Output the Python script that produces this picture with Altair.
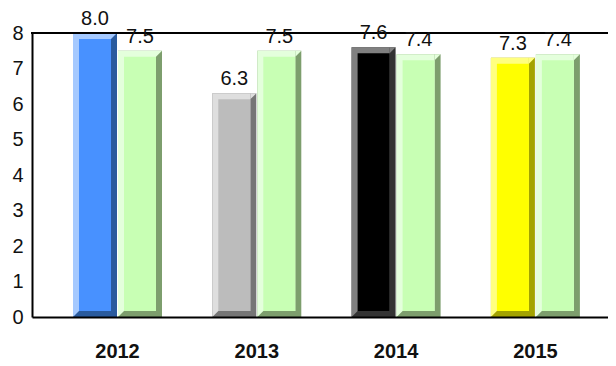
import altair as alt
import pandas as pd

# ---- data ----
years = ["2012", "2013", "2014", "2015"]
series_a = [8.0, 6.3, 7.6, 7.3]
series_b = [7.5, 7.5, 7.4, 7.4]
y_ticks = [0, 1, 2, 3, 4, 5, 6, 7, 8]

# ---- styles (per bar colour: face / light bevel / dark bevel) ----
a_face = ["#4891ff", "#bcbcbc", "#000000", "#ffff00"]
a_light = ["#a5c9ff", "#dedede", "#808080", "#ffff80"]
a_dark = ["#2a5b9e", "#767676", "#333333", "#a3a300"]
b_face = "#c8ffb4"
b_light = "#e4ffdc"
b_dark = "#7d9e6d"

FONT = "Liberation Sans"
TRI = "M-1,-1L1,-1L-1,1Z"

df_a = pd.DataFrame({"year": years, "value": series_a,
                     "face": a_face, "light": a_light, "dark": a_dark})
df_b = pd.DataFrame({"year": years, "value": series_b,
                     "face": [b_face] * 4, "light": [b_light] * 4, "dark": [b_dark] * 4})

PW, PH = 576, 284

xscale = alt.Scale(domain=years, paddingInner=0, paddingOuter=0.0675, align=0.843)
yscale = alt.Scale(domain=[0, 8], nice=False, zero=True)
xax = alt.Axis(title=None, labelAngle=0, ticks=False, labelPadding=24, labelFontSize=20,
               labelFontWeight="bold", labelFont=FONT, labelColor="#111111",
               domainColor="black", domainWidth=2, zindex=2, grid=False)
yax = alt.Axis(title=None, values=y_ticks, ticks=False, labelPadding=9, labelFontSize=20,
               labelFont=FONT, labelColor="#111111", domainColor="black", domainWidth=2,
               zindex=2, grid=False, format="d", labelOverlap=False, tickCount=9)

BW = 44   # bar width
BV = 6    # bevel


def X():
    return alt.X("year:N", scale=xscale, axis=xax)


def Y():
    return alt.Y("value:Q", scale=yscale, axis=yax)


def Y0():
    return alt.Y(datum=0, type="quantitative", scale=yscale, axis=yax)


def bar_layers(df, off):
    base = alt.Chart(df)
    dark = base.mark_bar(width=BW, xOffset=off).encode(
        x=X(), y=Y(), y2=alt.Y2(datum=0), color=alt.Color("dark:N", scale=None))
    light = base.mark_bar(width=BW - BV, xOffset=off - BV / 2, y2Offset=-BV).encode(
        x=X(), y=Y(), y2=alt.Y2(datum=0), color=alt.Color("light:N", scale=None))
    face = base.mark_bar(width=BW - 2 * BV, xOffset=off, yOffset=BV, y2Offset=-BV).encode(
        x=X(), y=Y(), y2=alt.Y2(datum=0), color=alt.Color("face:N", scale=None))
    tri_tr = base.mark_point(shape=TRI, size=BV * BV, filled=True, opacity=1, strokeWidth=0,
                             xOffset=off + BW / 2 - BV / 2, yOffset=BV / 2).encode(
        x=X(), y=Y(), color=alt.Color("light:N", scale=None))
    tri_bl = base.mark_point(shape=TRI, size=BV * BV, filled=True, opacity=1, strokeWidth=0,
                             xOffset=off - BW / 2 + BV / 2, yOffset=-BV / 2).encode(
        x=X(), y=Y0(), color=alt.Color("light:N", scale=None))
    return [dark, light, face, tri_tr, tri_bl]


def text_layer(df, off):
    return alt.Chart(df).mark_text(baseline="alphabetic", dy=-8, fontSize=20, font=FONT,
                                   color="#111111", xOffset=off).encode(
        x=X(), y=Y(), text=alt.Text("value:Q", format=".1f"))


top_border = alt.Chart(pd.DataFrame({"b": [0]})).mark_rule(color="black", strokeWidth=2).encode(
    x=alt.value(-1), x2=alt.value(PW), y=alt.value(0))

layers = bar_layers(df_a, -22.5) + bar_layers(df_b, 22.5) + [top_border,
                                                             text_layer(df_a, -22.5),
                                                             text_layer(df_b, 22.5)]

chart = alt.layer(*layers).properties(
    width=PW, height=PH,
    autosize=alt.AutoSizeParams(type="none"),
    padding={"left": 24, "top": 25, "right": 0, "bottom": 46},
    background="white",
).configure_view(stroke=None)

chart.save("out.html", embed_options={"renderer": "svg", "actions": False})
